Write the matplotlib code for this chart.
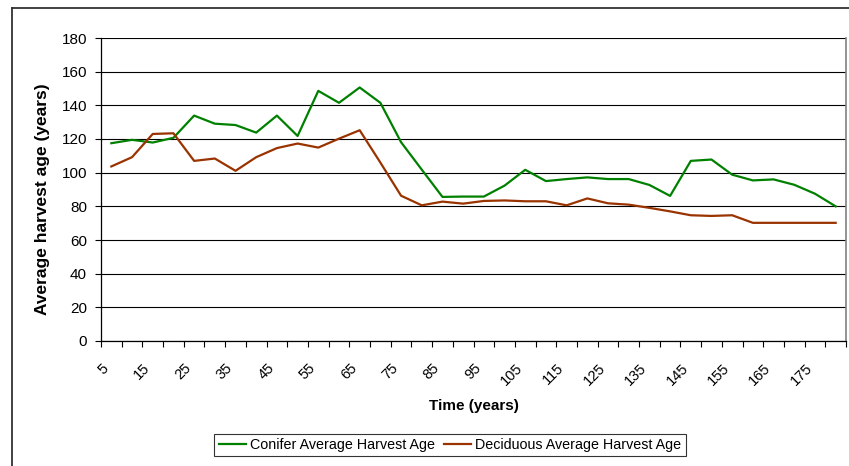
import numpy as np
import matplotlib.pyplot as plt
from matplotlib.lines import Line2D
from matplotlib.transforms import ScaledTranslation

plt.rcParams['font.family'] = ['Liberation Sans', 'DejaVu Sans']

# Datos
years = list(range(5, 185, 5))
conifer = [117.5, 119.5, 117.9, 120.7, 133.9, 129.1, 128.3, 123.8, 133.9, 121.8,
           148.6, 141.5, 150.6, 141.5, 118.1, 101.8, 85.6, 85.8, 85.8, 92.3,
           101.7, 95.0, 96.2, 97.2, 96.2, 96.2, 92.7, 86.2, 107.0, 107.8,
           98.8, 95.4, 96.0, 92.8, 87.5, 80.0]
deciduous = [103.7, 109.2, 123.0, 123.4, 107.0, 108.4, 101.1, 109.2, 114.6, 117.3,
             114.9, 120.2, 125.2, 106.0, 86.3, 80.6, 82.8, 81.6, 83.2, 83.5,
             83.0, 83.0, 80.6, 84.7, 81.8, 81.0, 79.1, 77.0, 74.7, 74.3,
             74.7, 70.2, 70.2, 70.2, 70.2, 70.2]
label_years = years[::2]

W, H = 849, 466
fig = plt.figure(figsize=(W / 100, H / 100), dpi=100)
ax = fig.add_axes([101 / W, 1 - 341 / H, 745 / W, 303 / H])

ax.plot(years, conifer, color='#008000', lw=1.6, label='Conifer Average Harvest Age')
ax.plot(years, deciduous, color='#993300', lw=1.6, label='Deciduous Average Harvest Age')

# Ejes
ax.set_xlim(2.5, 182.5)
ax.set_ylim(0, 180)
ax.set_yticks(np.arange(0, 181, 20))
ax.yaxis.grid(True, color='black', lw=0.8)
ax.set_axisbelow(True)

ax.set_xticks(np.arange(2.5, 183, 5), minor=True)
ax.set_xticks(label_years)
ax.set_xticklabels([str(v) for v in label_years], rotation=45, ha='right',
                   va='center', rotation_mode='anchor', fontsize=10.5)
ax.tick_params(axis='x', which='major', length=0, pad=18)
ax.tick_params(axis='x', which='minor', length=4, width=0.8, direction='out')
ax.tick_params(axis='y', length=4, width=0.8, labelsize=11, pad=6)
shift = ScaledTranslation(-5 / 100, 0, fig.dpi_scale_trans)
for lab in ax.get_xticklabels():
    lab.set_transform(lab.get_transform() + shift)

for s in ['left', 'bottom']:
    ax.spines[s].set_color('black')
    ax.spines[s].set_linewidth(0.9)
ax.spines['top'].set_visible(False)
ax.spines['right'].set_color('#808080')
ax.spines['right'].set_linewidth(1.2)

ax.set_ylabel('Average harvest age (years)', fontsize=12.5, fontweight='bold')
ax.yaxis.set_label_coords(-0.069, 0.467)
ax.set_xlabel('Time (years)', fontsize=11, fontweight='bold', labelpad=8)

leg = fig.legend(loc='center', bbox_to_anchor=(450 / W, 1 - 445 / H), ncol=2,
                 fontsize=10.3, frameon=True, fancybox=False, handlelength=1.9,
                 handletextpad=0.3, columnspacing=0.6, borderpad=0.3)
leg.get_frame().set_edgecolor('black')
leg.get_frame().set_linewidth(0.8)

# Borde exterior
fig.add_artist(Line2D([12 / W, 12 / W], [0, 1 - 8 / H], color='#333333', lw=1.3))
fig.add_artist(Line2D([12 / W, 1], [1 - 8 / H, 1 - 8 / H], color='#333333', lw=1.3))

fig.savefig('out.png', dpi=100)
